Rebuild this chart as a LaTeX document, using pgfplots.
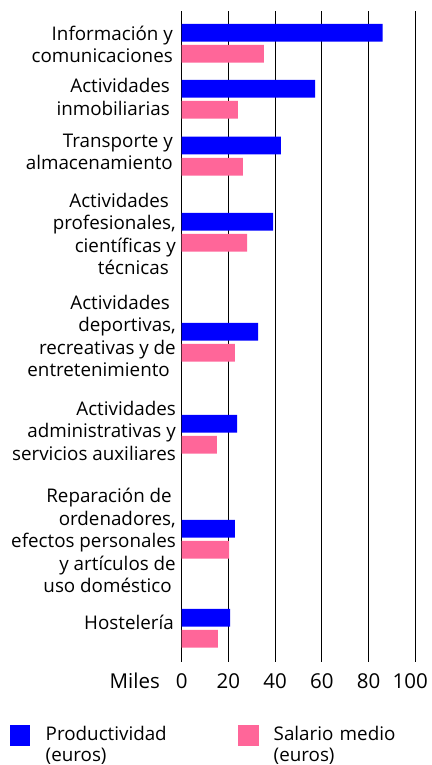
\documentclass[border=0pt]{standalone}
\usepackage{fontspec}
\setmainfont{Open Sans}
\usepackage{pgfplots}
\pgfplotsset{compat=1.18}
\definecolor{prodblue}{RGB}{0,0,255}
\definecolor{salpink}{RGB}{255,102,153}
\begin{document}
\begin{tikzpicture}
\path[use as bounding box] (-181.7pt,11pt) rectangle (249.3pt,-754pt);
\begin{axis}[
  at={(0pt,0pt)}, anchor=north west,
  scale only axis, width=233.6pt, height=651pt,
  xmin=0, xmax=100, ymin=11, ymax=662, y dir=reverse,
  xbar, bar shift=0pt, bar width=17.7,
  clip=false,
  axis line style={draw=none},
  xtick={0,20,40,60,80,100},
  xticklabels={0,20,40,60,80,\hspace*{-10pt}100},
  xmajorgrids, grid style={black, line width=0.9pt},
  major tick length=0pt,
  xticklabel style={anchor=base, yshift=-26pt, inner sep=0pt, font=\fontsize{20.5}{24}\selectfont},
  /pgf/number format/assume math mode=true,
  ytick={62.7,115,169.5,274.5,376.5,460,592.5,629},
  yticklabels={
    {Información y\hspace*{3pt}\\comunicaciones\hspace*{3pt}},
    {Actividades\hspace*{6pt}\\inmobiliarias\hspace*{6pt}},
    {Transporte y\hspace*{3pt}\\almacenamiento\hspace*{3pt}},
    {Actividades\hspace*{7pt}\\profesionales,\hspace*{7pt}\\científicas y\hspace*{7pt}\\técnicas\hspace*{7pt}},
    {Actividades\hspace*{6pt}\\deportivas,\hspace*{6pt}\\recreativas y de\hspace*{6pt}\\entretenimiento\hspace*{6pt}},
    {Actividades\\administrativas y\\servicios auxiliares},
    {Reparación de\hspace*{4pt}\\ordenadores,\hspace*{4pt}\\efectos personales\hspace*{4pt}\\y artículos de\hspace*{4pt}\\uso doméstico\hspace*{4pt}},
    {Hostelería\hspace*{2pt}}},
  yticklabel style={anchor=base east, align=right, inner sep=0pt, xshift=-5.7pt, font=\fontsize{18.8}{22.5}\selectfont},
  xlabel={Miles},
  xlabel style={at={(axis description cs:0,0)}, anchor=base east, xshift=-21.7pt, yshift=-26pt, inner sep=0pt, font=\fontsize{20.5}{24}\selectfont},
  legend columns=2,
  legend style={draw=none, fill=none, inner sep=0pt, outer sep=0pt,
    at={(axis description cs:-0.7350,-0.0968)}, anchor=north west,
    font=\fontsize{18.8}{21.5}\selectfont,
    cells={anchor=base west},
    nodes={inner sep=0pt, text width=180pt, align=left},
    /tikz/every odd column/.append style={column sep=15.2pt},
    /tikz/every even column/.append style={column sep=12.3pt}},
]
\addplot[draw=none, fill=prodblue,
  legend image code/.code={\fill[prodblue] (0pt,-5.5pt) rectangle (20.5pt,15pt);}]
  coordinates {(86.0,32.8) (57.1,88.8) (42.5,145.5) (39.1,221.8) (32.7,331.8) (23.7,423.8) (22.8,528.8) (20.7,617.8)};
\addlegendentry{Productividad\\(euros)}
\addplot[draw=none, fill=salpink,
  legend image code/.code={\fill[salpink] (0pt,-5.5pt) rectangle (20.5pt,15pt);}]
  coordinates {(35.2,53.8) (24.1,109.8) (26.2,166.7) (28.0,242.8) (22.8,352.8) (15.1,444.8) (20.3,549.8) (15.5,638.8)};
\addlegendentry{Salario medio\\(euros)}
\end{axis}
\end{tikzpicture}
\end{document}
